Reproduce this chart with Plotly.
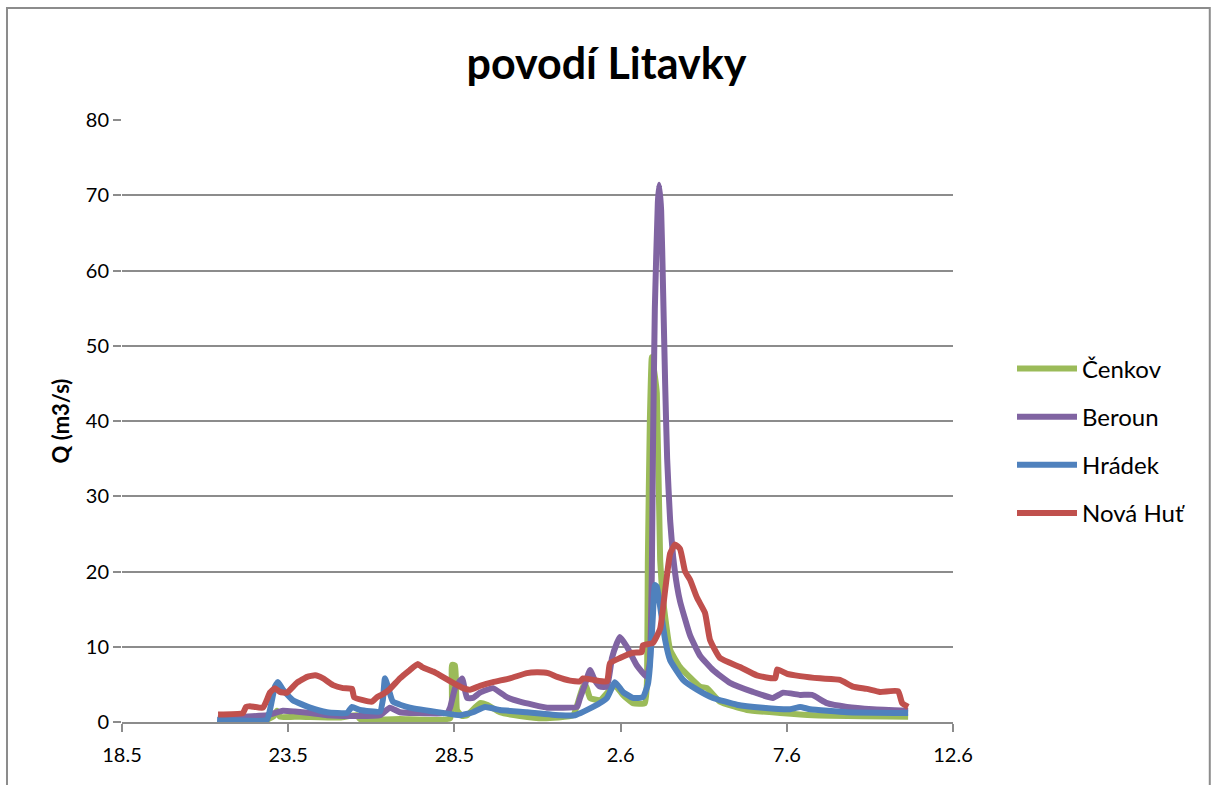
import plotly.graph_objects as go

# x = days since 18.5. (0 = 18.5, 5 = 23.5, ... 25 = 12.6)
tick_vals = [0, 5, 10, 15, 20, 25]
tick_text = ["18.5", "23.5", "28.5", "2.6", "7.6", "12.6"]

cenkov_x = [2.89, 4.36, 4.57, 4.66, 4.75, 5.35, 6.56, 7.07, 7.16, 8.36, 9.87, 9.93, 10.02, 10.08,
            10.23, 10.38, 10.77, 10.98, 11.37, 11.97, 12.67, 13.57, 13.87, 13.96, 14.08, 14.38,
            14.68, 14.83, 15.07, 15.37, 15.73, 15.79, 15.82, 15.88, 15.94, 16.03, 16.09, 16.19,
            16.28, 16.49, 16.79, 17.39, 17.60, 17.99, 18.80, 19.80, 20.79, 23.65]
cenkov_y = [0.2, 0.3, 0.8, 1.5, 0.7, 0.7, 0.6, 0.9, 0.4, 0.4, 0.5, 7.6, 7.5, 1.6,
            0.8, 0.9, 2.5, 2.3, 1.3, 0.8, 0.5, 0.9, 4.7, 4.8, 3.2, 2.9,
            4.3, 4.9, 3.6, 2.5, 2.5, 5.0, 21.5, 40.0, 48.5, 46.0, 43.7, 21.5,
            16.2, 9.6, 7.3, 4.7, 4.5, 2.7, 1.6, 1.2, 0.9, 0.7]

beroun_x = [2.89, 3.70, 4.36, 4.84, 5.20, 5.66, 6.17, 6.86, 7.76, 8.06, 8.36, 8.87, 9.78, 9.87,
            10.02, 10.23, 10.38, 10.56, 10.77, 11.16, 11.58, 11.97, 12.79, 13.18, 13.69, 13.78,
            13.93, 14.08, 14.23, 14.38, 14.59, 14.74, 14.89, 14.98, 15.19, 15.49, 15.79, 15.88,
            15.94, 15.97, 16.03, 16.12, 16.16, 16.22, 16.28, 16.34, 16.40, 16.49, 16.58, 16.70,
            16.79, 17.09, 17.39, 17.78, 18.29, 18.98, 19.58, 19.89, 20.40, 20.76, 21.21, 21.81,
            22.59, 23.65]
beroun_y = [0.5, 0.7, 0.9, 1.5, 1.4, 1.2, 0.9, 0.8, 0.9, 1.9, 1.3, 1.2, 1.2, 1.9,
            4.5, 5.8, 3.2, 3.2, 3.9, 4.5, 3.3, 2.7, 1.9, 1.9, 2.0, 3.2,
            5.0, 6.9, 5.5, 4.7, 4.7, 8.5, 10.5, 11.3, 10.0, 7.5, 6.0, 8.0,
            20.0, 35.0, 55.0, 69.0, 71.4, 68.0, 57.0, 45.0, 35.0, 26.8, 22.0, 18.0,
            16.0, 11.5, 8.8, 6.9, 5.2, 4.0, 3.2, 3.9, 3.6, 3.6, 2.5, 2.0,
            1.7, 1.5]

hradek_x = [2.86, 4.36, 4.45, 4.60, 4.69, 4.84, 5.14, 5.66, 6.17, 6.77, 6.92, 7.16, 7.76, 7.85,
            7.91, 8.00, 8.15, 8.66, 9.66, 10.17, 10.56, 10.92, 11.37, 12.18, 13.18, 13.63,
            14.17, 14.59, 14.83, 15.07, 15.37, 15.67, 15.82, 15.88, 15.97, 16.03, 16.09, 16.19,
            16.34, 16.49, 16.88, 17.30, 17.78, 18.50, 19.28, 20.10, 20.40, 20.70, 21.81, 23.65]
hradek_y = [0.3, 0.3, 1.6, 4.7, 5.3, 4.3, 2.9, 1.9, 1.3, 1.2, 2.0, 1.6, 1.4, 3.0,
            5.8, 4.7, 2.7, 1.9, 1.2, 0.9, 1.3, 2.0, 1.6, 1.3, 0.9, 0.9,
            2.0, 3.2, 5.3, 4.0, 3.2, 3.3, 5.0, 7.3, 14.0, 18.2, 18.0, 15.3,
            10.9, 8.2, 5.6, 4.3, 3.2, 2.3, 1.9, 1.7, 2.0, 1.7, 1.3, 1.2]

novahut_x = [2.89, 3.64, 3.73, 3.85, 4.24, 4.45, 4.60, 4.75, 4.96, 5.26, 5.57, 5.81, 6.05, 6.35,
             6.65, 6.92, 6.98, 7.25, 7.52, 7.67, 7.85, 8.06, 8.36, 8.66, 8.90, 9.03, 9.36, 9.57,
             9.96, 10.26, 10.47, 10.77, 11.16, 11.67, 12.18, 12.48, 12.82, 13.09, 13.48, 13.78,
             13.87, 14.17, 14.59, 14.68, 14.98, 15.37, 15.64, 15.67, 15.97, 16.19, 16.34, 16.49,
             16.64, 16.79, 16.94, 17.09, 17.30, 17.54, 17.69, 17.99, 18.59, 19.10, 19.65, 19.71,
             20.01, 20.40, 21.00, 21.60, 21.99, 22.41, 22.80, 23.35, 23.47, 23.65]
novahut_y = [1.0, 1.2, 2.0, 2.1, 1.9, 3.9, 4.5, 4.0, 3.9, 5.2, 6.0, 6.2, 5.8, 4.9,
             4.5, 4.4, 3.3, 2.9, 2.7, 3.3, 3.7, 4.4, 5.8, 6.9, 7.7, 7.3, 6.7, 6.2,
             5.2, 4.5, 4.3, 4.8, 5.3, 5.8, 6.5, 6.6, 6.5, 6.0, 5.5, 5.4,
             5.8, 5.6, 5.4, 7.8, 8.5, 9.2, 9.3, 10.2, 10.5, 12.4, 17.5, 22.4,
             23.6, 23.0, 20.0, 18.9, 16.5, 14.5, 10.9, 8.5, 7.3, 6.2, 5.8, 7.0,
             6.4, 6.1, 5.8, 5.6, 4.7, 4.4, 4.0, 4.1, 2.5, 2.0]

series = [
    ("Čenkov", cenkov_x, cenkov_y, "#9BBB59"),
    ("Beroun", beroun_x, beroun_y, "#8064A2"),
    ("Hrádek", hradek_x, hradek_y, "#4F81BD"),
    ("Nová Huť", novahut_x, novahut_y, "#C0504D"),
]

FONT = "Lato, 'Open Sans', sans-serif"

fig = go.Figure()
for i, (name, xs, ys, col) in enumerate(series):
    fig.add_trace(go.Scatter(
        x=xs, y=ys, name=name, mode="lines",
        line=dict(color=col, width=6, shape="spline", smoothing=0.4),
        legendgroup=str(i),
    ))

fig.update_layout(
    width=1213, height=785,
    paper_bgcolor="white", plot_bgcolor="white",
    margin=dict(l=122, r=260, t=120, b=63),
    title=dict(text="<b>povodí Litavky</b>", x=0.5, xanchor="center",
               y=1 - 64 / 785, yanchor="middle",
               font=dict(family=FONT, size=43, color="black")),
    font=dict(family=FONT, size=20, color="black"),
    showlegend=True,
    legend=dict(x=1.071, xanchor="left", y=0.467, yanchor="middle",
                font=dict(family=FONT, size=24, color="black"),
                tracegroupgap=14, itemwidth=60, bgcolor="rgba(0,0,0,0)"),
    xaxis=dict(range=[0, 25], tickvals=tick_vals, ticktext=tick_text,
               showgrid=False, showline=True, linecolor="#8c8c8c", linewidth=1.5,
               ticks="outside", ticklen=8, tickcolor="#8c8c8c", tickwidth=1.5,
               zeroline=False, tickfont=dict(size=20), ticklabelstandoff=6),
    yaxis=dict(range=[0, 80], dtick=10, showgrid=True, gridcolor="#8c8c8c", gridwidth=1.5,
               showline=False, zeroline=False, ticks="outside", ticklen=8,
               tickcolor="#8c8c8c", tickwidth=1.5, tickfont=dict(size=20),
               title=dict(text="<b>Q (m3/s)</b>", font=dict(size=22), standoff=10)),
)

# outer chart frame
fig.add_shape(type="rect", xref="paper", yref="paper",
              x0=-0.1384, x1=1.309, y0=-0.12, y1=1.186,
              line=dict(color="#8c8c8c", width=2), fillcolor="rgba(0,0,0,0)", layer="below")

fig.write_html("out.html", config={"displayModeBar": False},
               post_script="document.body.style.margin='0';document.body.style.overflow='hidden';")
